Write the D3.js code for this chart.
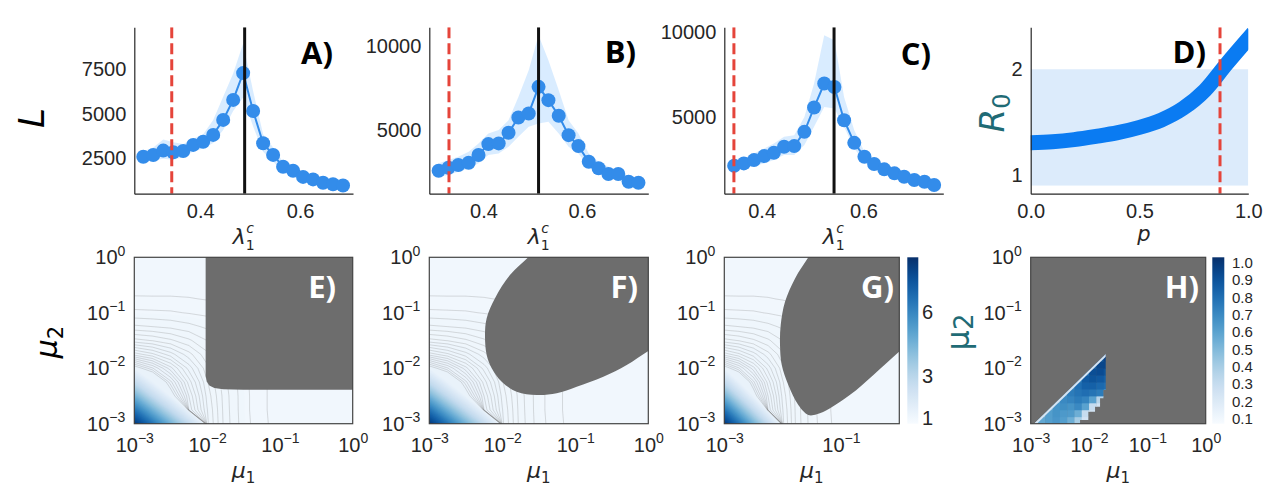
<!DOCTYPE html>
<html>
<head>
<meta charset="utf-8">
<script src="https://cdn.jsdelivr.net/npm/d3@7"></script>
<style>
  body { margin: 0; background: #fff; }
</style>
</head>
<body>
<svg id="fig" width="1277" height="490"></svg>
<script>
// ---------- top row data: L against lambda_1^c ----------
const lamA = [0.286, 0.306, 0.326, 0.346, 0.366, 0.386, 0.406, 0.426, 0.446, 0.466, 0.486, 0.506, 0.526, 0.546, 0.566, 0.586, 0.606, 0.626, 0.646, 0.666, 0.686];
const LA   = [2590, 2685, 2930, 2840, 2910, 3250, 3430, 3810, 4650, 5770, 7270, 5150, 3340, 2690, 2030, 1800, 1460, 1320, 1130, 1050, 980];
const loA  = [2300, 2380, 2480, 2420, 2560, 2880, 3050, 3360, 4090, 5150, 5900, 4280, 2870, 2300, 1780, 1580, 1300, 1170, 1010, 940, 880];
const hiA  = [2900, 3100, 3550, 3400, 3300, 3600, 3850, 4650, 5950, 7250, 8930, 6250, 3850, 3100, 2300, 2020, 1620, 1460, 1250, 1160, 1080];
const critA = [0.343, 0.489];

const lamB = [0.309, 0.329, 0.349, 0.370, 0.390, 0.410, 0.431, 0.451, 0.471, 0.492, 0.512, 0.532, 0.553, 0.573, 0.593, 0.614, 0.634, 0.654, 0.674, 0.695, 0.715];
const LB   = [2586, 2764, 2924, 3062, 3517, 4170, 4210, 4840, 5750, 5990, 7570, 6780, 5850, 4700, 4050, 3120, 2730, 2390, 2390, 1935, 1875];
const loB  = [2231, 2330, 2527, 2725, 3024, 3517, 3616, 4010, 4603, 5198, 5395, 5494, 4804, 4010, 3616, 2824, 2429, 2135, 2075, 1637, 1542];
const hiB  = [3024, 3221, 3419, 3715, 4211, 4804, 5000, 5593, 6975, 8559, 10635, 9152, 7372, 5593, 4804, 3616, 3122, 2824, 2627, 2231, 2135];
const critB = [0.330, 0.512];

const lamC = [0.346, 0.365, 0.385, 0.405, 0.424, 0.444, 0.464, 0.484, 0.503, 0.523, 0.543, 0.562, 0.582, 0.602, 0.621, 0.641, 0.661, 0.680, 0.700, 0.720, 0.739];
const LC   = [2176, 2316, 2509, 2742, 2935, 3285, 3326, 4160, 5583, 6984, 6786, 4842, 3518, 2701, 2276, 1966, 1733, 1535, 1342, 1243, 1050];
const loC  = [1925, 2024, 2158, 2316, 2509, 2800, 2800, 3384, 4452, 5618, 5525, 4452, 3192, 2410, 2024, 1733, 1535, 1383, 1184, 1108, 915];
const hiC  = [2410, 2608, 2900, 3192, 3483, 3868, 3967, 5035, 6984, 9802, 9510, 6202, 4259, 2993, 2509, 2118, 1884, 1692, 1499, 1383, 1184];
const critC = [0.3455, 0.5423];

const ticksLam = [0.4, 0.6];
const ticksLA = [2500, 5000, 7500];
const ticksLB = [5000, 10000];
const ticksLC = [5000, 10000];

// panel D: R0 against p
const pD   = [0, 0.1, 0.2, 0.3, 0.4, 0.5, 0.6, 0.7, 0.8, 0.9, 1.0];
const R0D  = [1.306, 1.315, 1.335, 1.365, 1.40, 1.45, 1.52, 1.63, 1.80, 2.05, 2.29];
const bandD = [0.9, 2.0];
const critD = [0.87];
const ticksP = [0, 0.5, 1];
const ticksR0 = [1, 2];

// ---------- bottom row data ----------
// field on a log grid, quarter decades from 1e-3 to 1e0 ; rows = mu2 (bottom->top), cols = mu1
const gridLog = [-3, -2.75, -2.5, -2.25, -2, -1.75, -1.5, -1.25, -1, -0.75, -0.5, -0.25, 0];
const fieldZ = [
  [8.4, 6.6, 4.6, 2.7, 1.129, 1.073, 1.042, 1.024, 1.013, 1.007, 1.004, 1.002, 1.001],
  [6.6, 4.6, 2.7, 1.214, 1.126, 1.072, 1.041, 1.023, 1.013, 1.007, 1.004, 1.002, 1.001],
  [4.6, 2.7, 1.316, 1.200, 1.120, 1.071, 1.041, 1.023, 1.013, 1.007, 1.004, 1.002, 1.001],
  [2.7, 1.366, 1.265, 1.178, 1.112, 1.068, 1.040, 1.023, 1.013, 1.007, 1.004, 1.002, 1.001],
  [1.309, 1.262, 1.206, 1.149, 1.100, 1.063, 1.038, 1.022, 1.013, 1.007, 1.004, 1.002, 1.001],
  [1.194, 1.174, 1.147, 1.116, 1.084, 1.056, 1.036, 1.021, 1.013, 1.007, 1.004, 1.002, 1.001],
  [1.116, 1.109, 1.098, 1.083, 1.065, 1.047, 1.032, 1.020, 1.012, 1.007, 1.004, 1.002, 1.001],
  [1.068, 1.065, 1.061, 1.055, 1.047, 1.037, 1.027, 1.018, 1.011, 1.007, 1.004, 1.002, 1.001],
  [1.039, 1.038, 1.037, 1.034, 1.031, 1.026, 1.021, 1.015, 1.010, 1.006, 1.004, 1.002, 1.001],
  [1.022, 1.022, 1.022, 1.021, 1.019, 1.017, 1.015, 1.012, 1.008, 1.006, 1.004, 1.002, 1.001],
  [1.013, 1.012, 1.012, 1.012, 1.012, 1.011, 1.010, 1.008, 1.007, 1.005, 1.003, 1.002, 1.001],
  [1.007, 1.007, 1.007, 1.007, 1.007, 1.007, 1.006, 1.005, 1.005, 1.004, 1.003, 1.002, 1.001],
  [1.004, 1.004, 1.004, 1.004, 1.004, 1.004, 1.004, 1.003, 1.003, 1.003, 1.002, 1.002, 1.001]
];

// masked (grey) regions, [log10 mu1, log10 mu2]
const grayE = [[-2.02, 0.3], [-2.02, -2.14], [-2.005, -2.24], [-1.97, -2.31], [-1.9, -2.355], [-1.78, -2.378], [-1.5, -2.388], [0.3, -2.39], [0.3, 0.3]];
const grayF = [[-1.45, 0.25], [-1.644, 0], [-1.895, -0.321], [-2.10, -0.74], [-2.214, -1.10], [-2.237, -1.40], [-2.214, -1.762], [-2.145, -2.00], [-2.008, -2.243], [-1.803, -2.423], [-1.529, -2.483], [-1.255, -2.452], [-0.981, -2.333], [-0.616, -2.153], [-0.296, -1.942], [0.0, -1.69], [0.3, -1.45], [0.3, 0.3]];
const grayG = [[-1.40, 0.25], [-1.559, 0], [-1.787, -0.38], [-1.959, -0.802], [-2.033, -1.222], [-2.045, -1.582], [-2.015, -1.942], [-1.902, -2.303], [-1.731, -2.663], [-1.559, -2.843], [-1.415, -2.83], [-1.187, -2.72], [-0.844, -2.48], [-0.444, -2.12], [0, -1.70], [0.3, -1.4], [0.3, 0.3]];

// panel H: valid region and cell values (eighth decades), rows bottom->top
const hRegion = [[-2.943, -3], [-1.714, -1.744], [-1.714, -2.393], [-1.755, -2.393], [-1.755, -2.542], [-1.811, -2.542], [-1.811, -2.694], [-1.897, -2.694], [-1.897, -2.784], [-2.012, -2.784], [-2.012, -2.933], [-2.154, -2.933], [-2.154, -3]];
const hEdgesX = [-3, -2.875, -2.75, -2.625, -2.5, -2.375, -2.25, -2.125, -2, -1.875, -1.75, -1.625];
const hEdgesY = [-3, -2.875, -2.75, -2.625, -2.5, -2.375, -2.25, -2.125, -2, -1.875, -1.75];
const hZ = [
  [0.45, 0.58, 0.62, 0.65, 0.62, 0.55, 0.4, 0.25, null, null, null],
  [null, 0.5, 0.62, 0.66, 0.64, 0.63, 0.55, 0.3, 0.25, null, null],
  [null, null, 0.55, 0.66, 0.68, 0.66, 0.7, 0.6, 0.3, 0.25, null],
  [null, null, null, 0.6, 0.7, 0.72, 0.75, 0.72, 0.6, 0.35, 0.3],
  [null, null, null, null, 0.65, 0.75, 0.78, 0.8, 0.78, 0.75, 0.6],
  [null, null, null, null, null, 0.7, 0.8, 0.85, 0.85, 0.82, 0.8],
  [null, null, null, null, null, null, 0.75, 0.88, 0.9, 0.88, 0.85],
  [null, null, null, null, null, null, null, 0.8, 0.92, 0.93, 0.9],
  [null, null, null, null, null, null, null, null, 0.85, 0.95, 0.95],
  [null, null, null, null, null, null, null, null, null, 0.9, 0.97]
];

const logTicks = [1e-3, 1e-2, 1e-1, 1];
const logTicksG = [1e-3, 1e-1];
const cbTicksG = [1, 3, 6];
const cbTicksH = [1.0, 0.9, 0.8, 0.7, 0.6, 0.5, 0.4, 0.3, 0.2, 0.1];

// ---------- drawing ----------
const svg = d3.select("#fig");
const defs = svg.append("defs");
const ink = "#262626";
const dotFill = "#338cea";
const bandFill = "rgba(30,144,255,0.17)";
const redDash = "#e5443a";
const maskGray = "#6d6d6d";
const teal = "#1f6b75";
const TOP_T = 27.3, TOP_B = 193.7;
const BOT_T = 257.3, BOT_B = 423.7;

function clipRect(id, x0, y0, x1, y1) {
  defs.append("clipPath").attr("id", id).append("rect")
    .attr("x", x0).attr("y", y0).attr("width", x1 - x0).attr("height", y1 - y0);
}

function axisFont(g) {
  g.attr("font-family", "'Liberation Sans', Arial, sans-serif").attr("font-size", 20);
  g.selectAll(".tick text").attr("fill", ink);
  g.selectAll(".tick line").remove();
  g.select(".domain").attr("stroke", ink).attr("stroke-width", 1.2);
}

function powLabels(g) {
  g.selectAll(".tick text").each(function(d) {
    var e = Math.round(Math.log10(d));
    var t = d3.select(this).text(null);
    t.append("tspan").text("10");
    t.append("tspan").attr("font-size", 14).attr("dy", "-0.62em").text(String(e).replace("-", "\u2212"));
  });
}

function mathText(x, y, size) {
  return svg.append("text").attr("x", x).attr("y", y).attr("text-anchor", "middle")
    .attr("font-family", "'DejaVu Sans', sans-serif").attr("font-style", "italic")
    .attr("font-size", size).attr("fill", ink);
}

function tag(txt, x, y, col) {
  svg.append("text").attr("x", x).attr("y", y).attr("text-anchor", "end")
    .attr("font-family", "'Open Sans', sans-serif").attr("font-weight", 700)
    .attr("font-size", 31).attr("fill", col).text(txt);
}

const topPanels = [
  {lam: lamA, L: LA, lo: loA, hi: hiA, crit: critA, yTicks: ticksLA, xDom: [0.268, 0.706], yDom: [518, 9835], x0: 134.3, x1: 353, tag: "A)", tagX: 333, tagY: 64},
  {lam: lamB, L: LB, lo: loB, hi: hiB, crit: critB, yTicks: ticksLB, xDom: [0.290, 0.735], yDom: [1222, 11109], x0: 429.3, x1: 648.3, tag: "B)", tagX: 636, tagY: 63},
  {lam: lamC, L: LC, lo: loC, hi: hiC, crit: critC, yTicks: ticksLC, xDom: [0.3266, 0.757], yDom: [543, 10274], x0: 724.3, x1: 943.3, tag: "C)", tagX: 931, tagY: 65}
];

topPanels.forEach(function(o, k) {
  var x = d3.scaleLinear().domain(o.xDom).range([o.x0, o.x1]),
      y = d3.scaleLinear().domain(o.yDom).range([TOP_B, TOP_T]);
  var rows = o.lam.map(function(v, i) { return {x: v, y: o.L[i], lo: o.lo[i], hi: o.hi[i]}; });

  clipRect("top" + k, o.x0, TOP_T, o.x1, TOP_B);
  var g = svg.append("g").attr("clip-path", "url(#top" + k + ")");

  g.append("path").datum(rows)
    .attr("fill", bandFill)
    .attr("d", d3.area().x(d => x(d.x)).y0(d => y(d.lo)).y1(d => y(d.hi)));

  g.append("path").datum(rows)
    .attr("fill", "none").attr("stroke", dotFill).attr("stroke-width", 2)
    .attr("d", d3.line().x(d => x(d.x)).y(d => y(d.y)));

  g.selectAll("circle").data(rows).enter().append("circle")
    .attr("cx", d => x(d.x)).attr("cy", d => y(d.y))
    .attr("r", 7).attr("fill", dotFill);

  g.append("line")
    .attr("x1", x(o.crit[0])).attr("x2", x(o.crit[0])).attr("y1", TOP_T).attr("y2", TOP_B)
    .attr("stroke", redDash).attr("stroke-width", 3).attr("stroke-dasharray", "11,5");
  g.append("line")
    .attr("x1", x(o.crit[1])).attr("x2", x(o.crit[1])).attr("y1", TOP_T).attr("y2", TOP_B)
    .attr("stroke", "#111").attr("stroke-width", 3);

  svg.append("g").attr("transform", "translate(0," + TOP_B + ")")
    .call(d3.axisBottom(x).tickValues(ticksLam).tickFormat(d3.format(".1f")).tickSize(0).tickSizeOuter(0).tickPadding(10))
    .call(axisFont);
  svg.append("g").attr("transform", "translate(" + o.x0 + ",0)")
    .call(d3.axisLeft(y).tickValues(o.yTicks).tickFormat(d3.format("d")).tickSize(0).tickSizeOuter(0).tickPadding(8))
    .call(axisFont);

  tag(o.tag, o.tagX, o.tagY, "#000");

  // lambda_1^c : subscript and superscript stacked
  var t = mathText((o.x0 + o.x1) / 2, 244, 22);
  t.append("tspan").text("λ");
  t.append("tspan").attr("font-size", 14).attr("font-style", "normal").attr("dy", 6).text("1");
  t.append("tspan").attr("font-size", 14).attr("dx", -8.5).attr("dy", -17).text("c");
});

// y label of the L panels
svg.append("text").attr("transform", "translate(44,118) rotate(-90)")
  .attr("text-anchor", "middle").attr("font-family", "'DejaVu Sans', sans-serif")
  .attr("font-style", "italic").attr("font-size", 36).attr("fill", "#000").text("L");

// ---- panel D ----
(function() {
  var x = d3.scaleLinear().domain([0, 1]).range([1030.7, 1248.3]),
      y = d3.scaleLinear().domain([0.823, 2.397]).range([TOP_B, TOP_T]);
  clipRect("topD", 1030.7, TOP_T, 1248.3, TOP_B);
  var g = svg.append("g").attr("clip-path", "url(#topD)");

  g.append("rect")
    .attr("x", x(0)).attr("width", x(1) - x(0))
    .attr("y", y(bandD[1])).attr("height", y(bandD[0]) - y(bandD[1]))
    .attr("fill", "#dcebfb");

  g.append("path").datum(pD)
    .attr("fill", "none").attr("stroke", "#0a7bf2").attr("stroke-width", 15).attr("stroke-linecap", "square")
    .attr("d", d3.line().x(d => x(d)).y((d, i) => y(R0D[i])).curve(d3.curveMonotoneX));

  g.append("line")
    .attr("x1", x(critD[0])).attr("x2", x(critD[0])).attr("y1", TOP_T).attr("y2", TOP_B)
    .attr("stroke", redDash).attr("stroke-width", 3).attr("stroke-dasharray", "11,5");

  svg.append("g").attr("transform", "translate(0," + TOP_B + ")")
    .call(d3.axisBottom(x).tickValues(ticksP).tickFormat(d3.format(".1f")).tickSize(0).tickSizeOuter(0).tickPadding(10))
    .call(axisFont);
  svg.append("g").attr("transform", "translate(1030.7,0)")
    .call(d3.axisLeft(y).tickValues(ticksR0).tickFormat(d3.format("d")).tickSize(0).tickSizeOuter(0).tickPadding(8))
    .call(axisFont);

  tag("D)", 1206, 63, "#000");
  mathText(1144, 241, 21).text("p");

  var r = svg.append("text").attr("transform", "translate(1004,113) rotate(-90)")
    .attr("text-anchor", "middle").attr("font-family", "'DejaVu Sans', sans-serif")
    .attr("font-size", 34).attr("fill", teal);
  r.append("tspan").attr("font-style", "italic").text("R");
  r.append("tspan").attr("font-size", 24).attr("dy", 6).text("0");
})();

// ---- panels E, F, G ----
const fieldColor = d3.scaleSequential(d3.interpolateBlues).domain([0.72, 8.6]);
const flatZ = fieldZ.flat();
const fillLevels = d3.range(0.72, 8.65, 0.08);
const lineLevels = d3.range(1.02, 1.3, 0.015);
const fills = d3.contours().size([gridLog.length, fieldZ.length]).thresholds(fillLevels)(flatZ);
const isos = d3.contours().size([gridLog.length, fieldZ.length]).thresholds(lineLevels)(flatZ);
const gridToLog = d3.scaleLinear().domain([0.5, gridLog.length - 0.5]).range([gridLog[0], gridLog[gridLog.length - 1]]);

const botPanels = [
  {x0: 134.3, x1: 352.7, gray: grayE, curve: d3.curveLinear, xTicks: logTicks, tag: "E)", tagX: 336},
  {x0: 429.3, x1: 648.3, gray: grayF, curve: d3.curveCatmullRomClosed.alpha(0.5), xTicks: logTicks, tag: "F)", tagX: 638},
  {x0: 724.3, x1: 899.3, gray: grayG, curve: d3.curveCatmullRomClosed.alpha(0.5), xTicks: logTicksG, tag: "G)", tagX: 894}
];

function logAxes(x, y, x0, xTicks) {
  var ax = svg.append("g").attr("transform", "translate(0," + BOT_B + ")")
    .call(d3.axisBottom(x).tickValues(xTicks).tickSize(0).tickSizeOuter(0))
    .call(axisFont).call(powLabels);
  ax.select(".domain").remove();
  ax.selectAll(".tick text").attr("y", 28).attr("dy", null);
  var ay = svg.append("g").attr("transform", "translate(" + x0 + ",0)")
    .call(d3.axisLeft(y).tickValues(logTicks).tickSize(0).tickSizeOuter(0).tickPadding(9))
    .call(axisFont).call(powLabels);
  ay.select(".domain").remove();
}

function muLabel(cx) {
  var t = mathText(cx, 478, 22);
  t.append("tspan").text("μ");
  t.append("tspan").attr("font-size", 15).attr("font-style", "normal").attr("dy", 5).text("1");
}

botPanels.forEach(function(o, k) {
  var x = d3.scaleLog().domain([1e-3, 1]).range([o.x0, o.x1]),
      y = d3.scaleLog().domain([1e-3, 1]).range([BOT_B, BOT_T]);
  var proj = d3.geoTransform({
    point: function(px, py) {
      this.stream.point(x(Math.pow(10, gridToLog(px))), y(Math.pow(10, gridToLog(py))));
    }
  });
  var path = d3.geoPath(proj);

  clipRect("bot" + k, o.x0, BOT_T, o.x1, BOT_B);
  var g = svg.append("g").attr("clip-path", "url(#bot" + k + ")");

  g.selectAll("path.fill").data(fills).enter().append("path").attr("class", "fill")
    .attr("d", path).attr("fill", d => fieldColor(d.value));
  g.selectAll("path.iso").data(isos).enter().append("path").attr("class", "iso")
    .attr("d", path).attr("fill", "none")
    .attr("stroke", "#7c7c7c").attr("stroke-width", 0.5).attr("stroke-opacity", 0.5);

  g.append("path").datum(o.gray)
    .attr("fill", maskGray)
    .attr("d", d3.line().x(d => x(Math.pow(10, d[0]))).y(d => y(Math.pow(10, d[1]))).curve(o.curve));

  svg.append("rect").attr("x", o.x0).attr("y", BOT_T)
    .attr("width", o.x1 - o.x0).attr("height", BOT_B - BOT_T)
    .attr("fill", "none").attr("stroke", "#444").attr("stroke-width", 1.2);

  logAxes(x, y, o.x0, o.xTicks);
  tag(o.tag, o.tagX, 298, "#fff");
  muLabel((o.x0 + o.x1) / 2);
});

// mu2 label of panel E
(function() {
  var t = svg.append("text").attr("transform", "translate(57,342) rotate(-90)")
    .attr("text-anchor", "middle").attr("font-family", "'DejaVu Sans', sans-serif")
    .attr("font-style", "italic").attr("font-size", 30).attr("fill", "#000");
  t.append("tspan").text("μ");
  t.append("tspan").attr("font-style", "normal").attr("font-size", 21).attr("dy", 6).text("2");
})();

// colour bars
function colorBar(id, x0, x1, scale, ticks, fmt, labelX, size) {
  var grad = defs.append("linearGradient").attr("id", id)
    .attr("x1", 0).attr("y1", 1).attr("x2", 0).attr("y2", 0);
  d3.range(0, 1.001, 0.05).forEach(function(s) {
    grad.append("stop").attr("offset", s).attr("stop-color", d3.interpolateBlues(s));
  });
  svg.append("rect").attr("x", x0).attr("y", BOT_T).attr("width", x1 - x0).attr("height", BOT_B - BOT_T)
    .attr("fill", "url(#" + id + ")");
  svg.selectAll("text." + id).data(ticks).enter().append("text").attr("class", id)
    .attr("x", labelX).attr("y", d => scale(d)).attr("dy", "0.36em")
    .attr("font-family", "'Liberation Sans', Arial, sans-serif").attr("font-size", size)
    .attr("fill", ink).text(fmt);
}
colorBar("cbG", 907.3, 918.3, d3.scaleLinear().domain([0.72, 8.6]).range([BOT_B, BOT_T]), cbTicksG, d3.format("d"), 922, 20);
colorBar("cbH", 1212.3, 1224.3, d3.scaleLinear().domain([0.07, 1.03]).range([BOT_B, BOT_T]), cbTicksH, d3.format(".1f"), 1232, 15);

// ---- panel H ----
(function() {
  var x = d3.scaleLog().domain([1e-3, 1]).range([1030.7, 1205.7]),
      y = d3.scaleLog().domain([1e-3, 1]).range([BOT_B, BOT_T]);
  var hColor = d3.scaleSequential(d3.interpolateBlues).domain([0.07, 1.03]);
  var lx = d => x(Math.pow(10, d)), ly = d => y(Math.pow(10, d));

  svg.append("rect").attr("x", 1030.7).attr("y", BOT_T).attr("width", 175).attr("height", BOT_B - BOT_T)
    .attr("fill", maskGray);

  defs.append("clipPath").attr("id", "hclip").append("path")
    .attr("d", d3.line().x(d => lx(d[0])).y(d => ly(d[1]))(hRegion) + "Z");

  var cells = [];
  hZ.forEach(function(row, r) {
    row.forEach(function(v, c) {
      if (v !== null) cells.push({r: r, c: c, v: v});
    });
  });
  var g = svg.append("g").attr("clip-path", "url(#hclip)");
  g.selectAll("rect").data(cells).enter().append("rect")
    .attr("x", d => lx(hEdgesX[d.c]))
    .attr("width", d => lx(hEdgesX[d.c + 1]) - lx(hEdgesX[d.c]) + 0.4)
    .attr("y", d => ly(hEdgesY[d.r + 1]))
    .attr("height", d => ly(hEdgesY[d.r]) - ly(hEdgesY[d.r + 1]) + 0.4)
    .attr("fill", d => hColor(d.v));
  g.append("line")
    .attr("x1", lx(hRegion[0][0])).attr("y1", ly(hRegion[0][1]))
    .attr("x2", lx(hRegion[1][0])).attr("y2", ly(hRegion[1][1]))
    .attr("stroke", "#d6e4f2").attr("stroke-width", 4);

  svg.append("rect").attr("x", 1030.7).attr("y", BOT_T).attr("width", 175).attr("height", BOT_B - BOT_T)
    .attr("fill", "none").attr("stroke", "#444").attr("stroke-width", 1.2);

  logAxes(x, y, 1030.7, logTicks);
  tag("H)", 1199, 298, "#fff");
  muLabel(1118.2);

  var t = svg.append("text").attr("transform", "translate(969,332) rotate(-90)")
    .attr("text-anchor", "middle").attr("font-family", "'DejaVu Sans', sans-serif")
    .attr("font-size", 32).attr("fill", teal);
  t.append("tspan").text("μ");
  t.append("tspan").attr("font-size", 26).attr("dy", 4).text("2");
})();
</script>
</body>
</html>
